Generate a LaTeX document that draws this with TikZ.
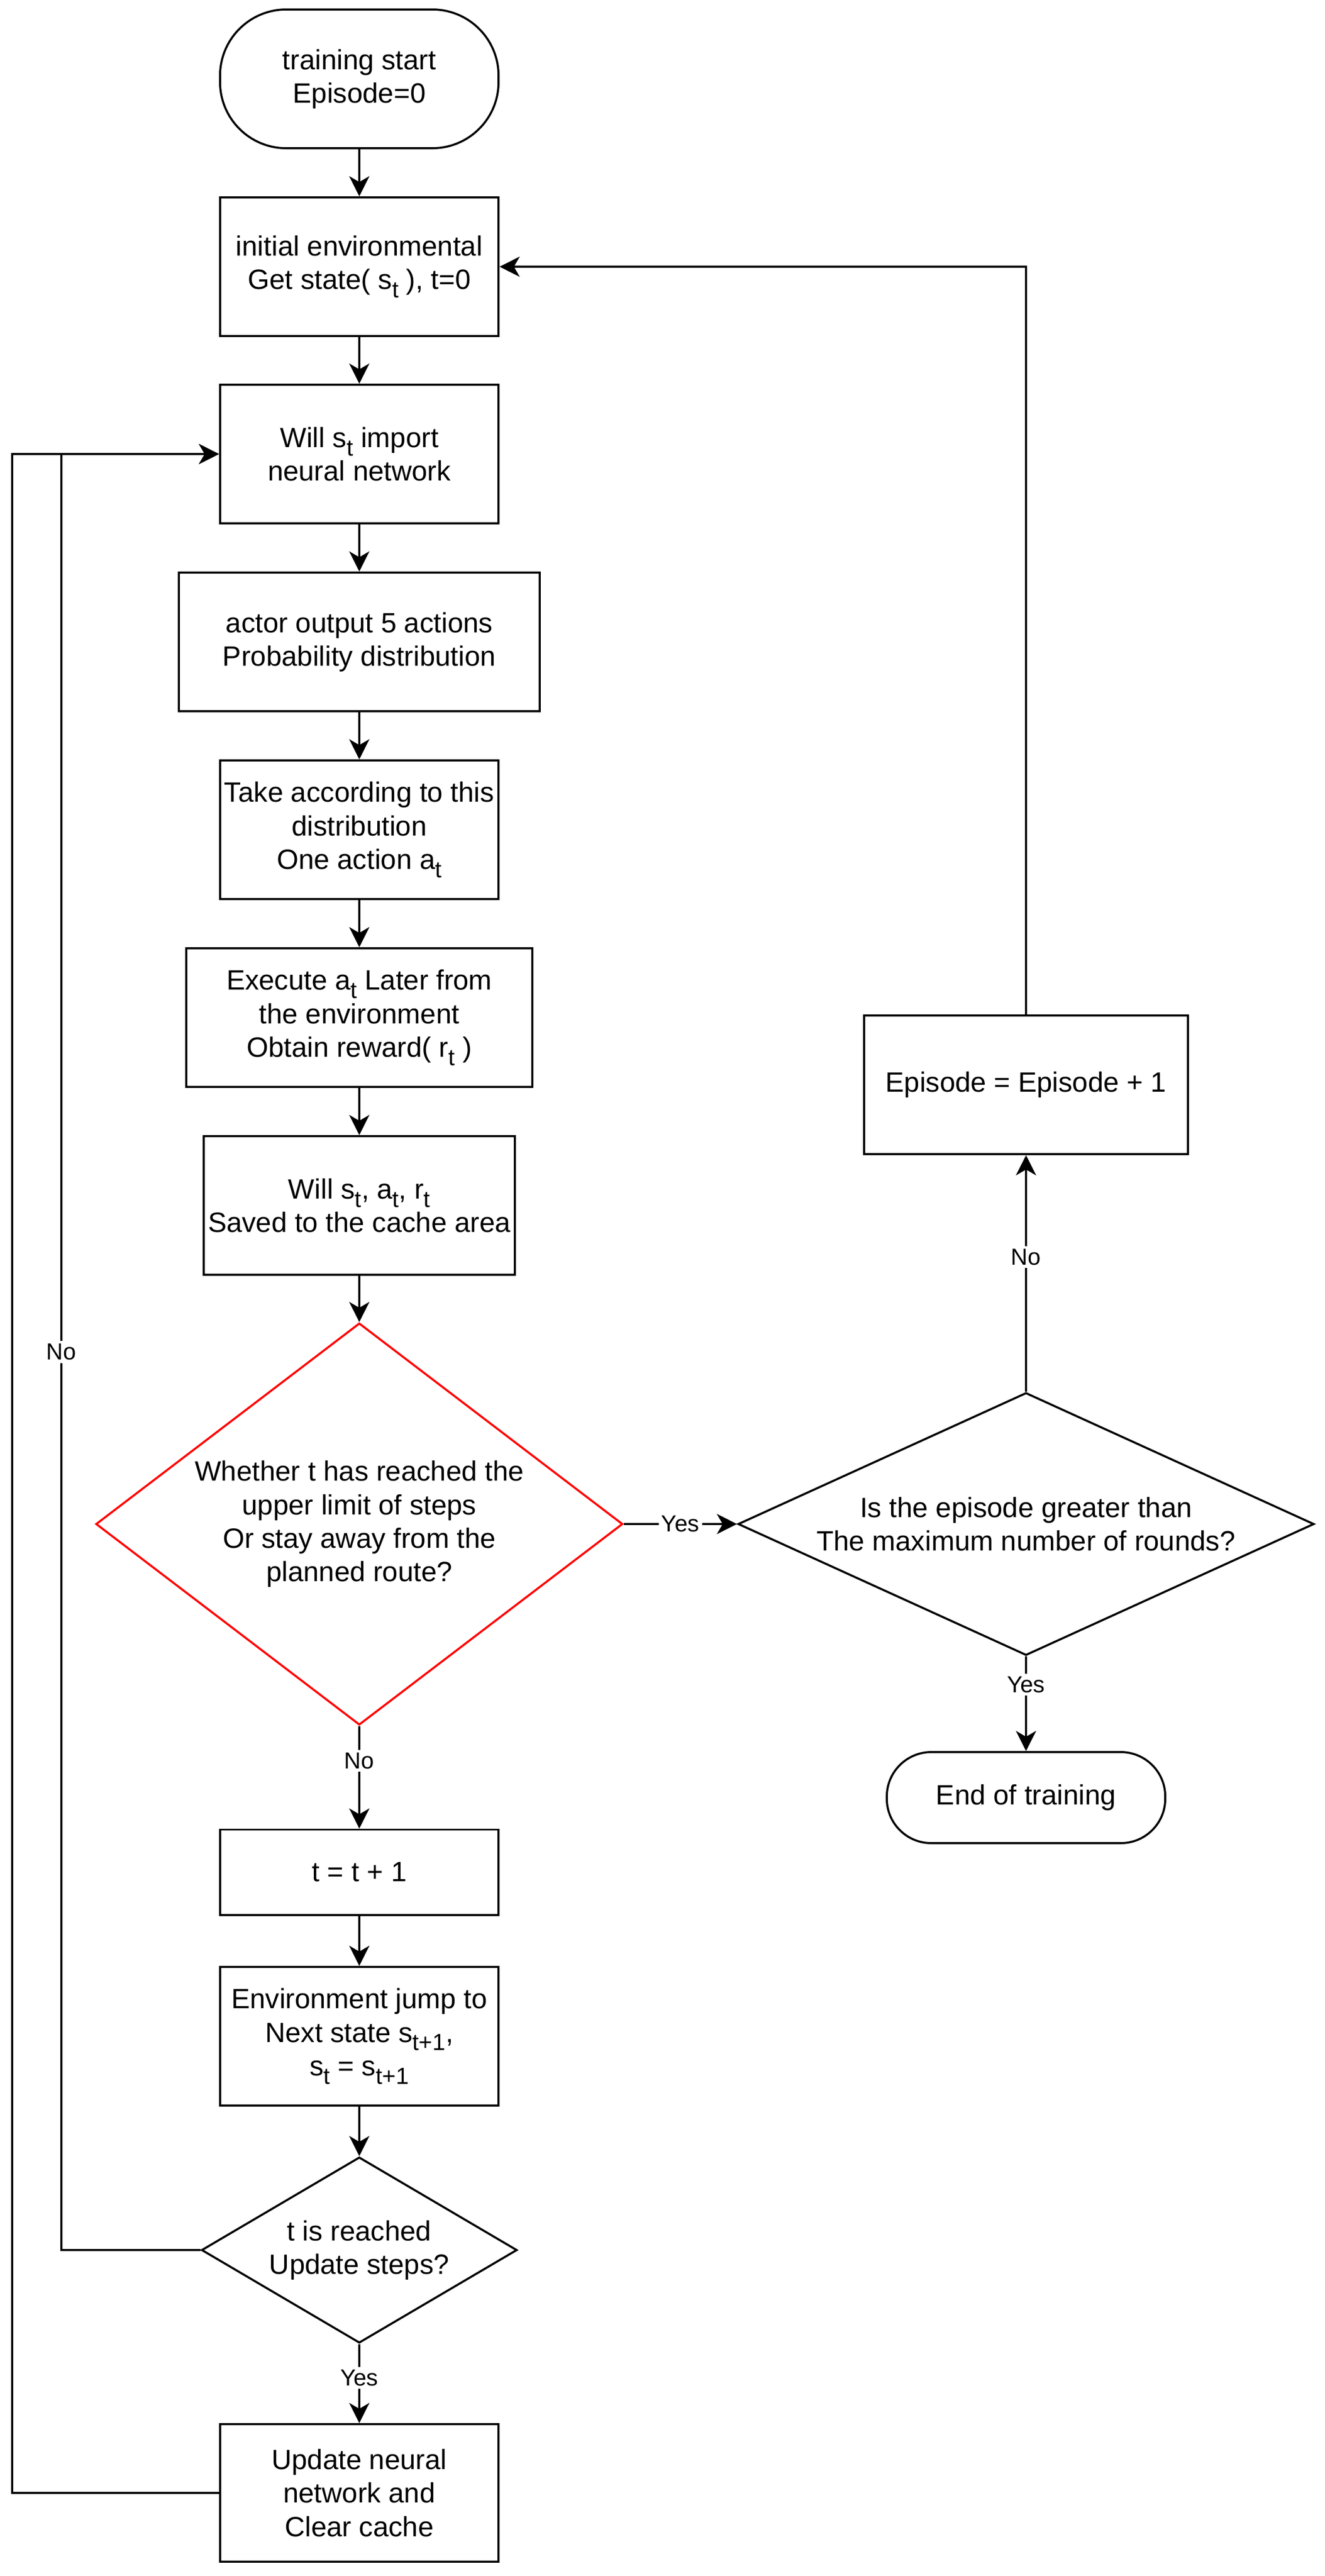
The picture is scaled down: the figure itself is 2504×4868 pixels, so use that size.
\documentclass[tikz,border=0pt]{standalone}
\usepackage{fontspec}
\setmainfont{Liberation Sans}
\usetikzlibrary{arrows.meta}
\usetikzlibrary{positioning}
\usetikzlibrary{shapes.geometric}
\newcommand{\dn}[1]{\raisebox{-0.3em}{\fontsize{12.5}{15}\selectfont #1}}

\begin{document}
\begin{tikzpicture}[
		x=0.01cm, y=-0.01cm,
		every node/.style={
			font=\fontsize{15}{18}\selectfont,
			align=center, inner sep=0pt
		},
		proc/.style={draw, line width=1.1pt, minimum width=5.26cm, minimum height=2.62cm},
		term/.style={proc, rounded corners=#1},
		decide/.style={draw, line width=1.1pt, diamond},
		flow/.style={line width=1.1pt, -{Stealth[length=0.38cm,width=0.38cm,inset=0.11cm]}},
		yn/.style={fill=white, inner sep=1.5pt, font=\fontsize{12.5}{15}\selectfont}
	]

	\useasboundingbox (0,0) rectangle (2504,4868);

	% main column
	\node[term=1.25cm] (start) at (679,149) {training start\\Episode=0};
	\node[proc] (init) at (679,504) {initial environmental\\Get state( s\dn{t} ), t=0};
	\node[proc] (feed) at (679,858) {Will s\dn{t} import\\neural network};
	\node[proc, minimum width=6.82cm] (actor) at (679,1213) {actor output 5 actions\\Probability distribution};
	\node[proc] (take) at (679,1568) {Take according to this\\distribution\\One action a\dn{t}};
	\node[proc, minimum width=6.54cm] (exec) at (679,1923) {Execute a\dn{t} Later from\\the environment\\Obtain reward( r\dn{t} )};
	\node[proc, minimum width=5.88cm] (save) at (679,2278) {Will s\dn{t}, a\dn{t}, r\dn{t}\\Saved to the cache area};
	\node[decide, draw=red, minimum width=9.95cm, minimum height=7.59cm,
		label={center:Whether t has reached the\\upper limit of steps\\Or stay away from the\\planned route?}] (limit) at (679,2880) {};
	\node[proc, minimum height=1.61cm] (tinc) at (679,3538) {t = t + 1};
	\node[proc] (jump) at (679,3848) {Environment jump to\\Next state s\dn{t+1},\\s\dn{t} = s\dn{t+1}};
	\node[decide, minimum width=5.96cm, minimum height=3.51cm,
		label={center:t is reached\\Update steps?}] (upcheck) at (679,4252) {};
	\node[proc, minimum height=2.6cm] (update) at (679,4711) {Update neural\\network and\\Clear cache};

	% episode column
	\node[decide, minimum width=10.88cm, minimum height=4.96cm,
		label={center:Is the episode greater than\\The maximum number of rounds?}] (maxep) at (1939,2880) {};
	\node[proc, minimum width=6.12cm] (epis) at (1939,2050) {Episode = Episode + 1};
	\node[term=0.84cm, minimum height=1.72cm] (finish) at (1939,3397) {End of training};

	\coordinate (inL) at (116,0);
	\coordinate (outL) at (23,0);

	\foreach \a/\b in {start/init,init/feed,feed/actor,actor/take,take/exec,exec/save,save/limit,tinc/jump,jump/upcheck}{
		\draw[flow] (\a.south) -- (\b.north);
	}

	\draw[flow] (limit.east) -- node[yn]{Yes} (maxep.west);
	\draw[flow] (maxep.north) -- node[yn, pos=0.57]{No} (epis.south);
	\draw[flow] (maxep.south) -- node[yn, pos=0.3]{Yes} (finish.north);
	\draw[flow] (limit.south) -- node[yn, pos=0.34]{No} (tinc.north);
	\draw[flow] (upcheck.south) -- node[yn, pos=0.43]{Yes} (update.north);
	\draw[flow] (epis.north) |- (init.east);

	% loops back to the network
	\draw[flow] (upcheck.west) -- (upcheck.west -| inL) -- node[yn]{No} (feed.west -| inL) -- (feed.west);
	\draw[flow] (update.west) -- (update.west -| outL) -- (feed.west -| outL) -- (feed.west);

\end{tikzpicture}
\end{document}
